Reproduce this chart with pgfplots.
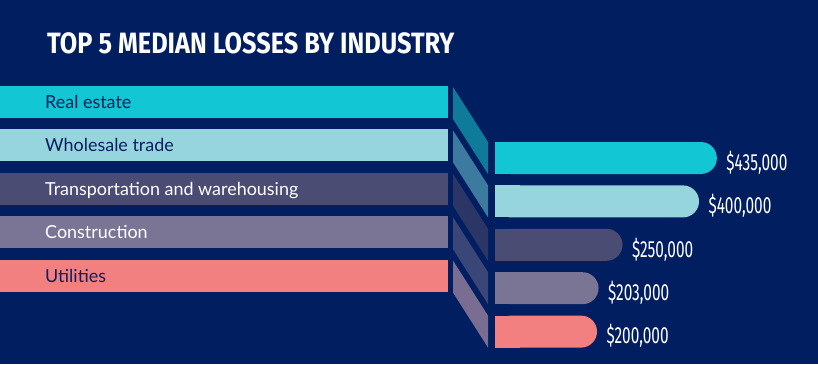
\documentclass[border=0pt]{standalone}
\usepackage{pgfplots}
\pgfplotsset{compat=1.18}
\usepackage{fontspec}
\setmainfont{Lato}
\newfontfamily\titlefont[FakeStretch=0.86]{Fira Sans}
\newfontfamily\valfont[FakeStretch=0.66]{Fira Sans}
\definecolor{bg}{HTML}{011E60}
\definecolor{cA}{HTML}{12C7D3}
\definecolor{cB}{HTML}{96D4DE}
\definecolor{cC}{HTML}{4B4C74}
\definecolor{cD}{HTML}{7A7595}
\definecolor{cE}{HTML}{F28080}
\definecolor{kA}{HTML}{0F7B9B}
\definecolor{kB}{HTML}{3C7A9F}
\definecolor{kC}{HTML}{2B3566}
\definecolor{kD}{HTML}{3A4678}
\definecolor{kE}{HTML}{796E92}
\definecolor{navytext}{HTML}{0B1F5E}
\begin{document}
\begin{tikzpicture}[x=1bp,y=1bp]
\useasboundingbox (0,0) rectangle (818,364);
\fill[bg] (0,0) rectangle (818,364);
% title
\node[anchor=base west, inner sep=0pt, text=white, font=\titlefont\bfseries\fontsize{29.5}{32}\selectfont] at (47,{364-53}) {TOP 5 MEDIAN LOSSES BY INDUSTRY};
% left bands and connectors
\foreach \i/\c/\k/\t/\lab in {0/cA/kA/navytext/Real estate,1/cB/kB/navytext/Wholesale trade,2/cC/kC/white/Transportation and warehousing,3/cD/kD/white/Construction,4/cE/kE/navytext/Utilities}{
  \pgfmathsetmacro{\top}{86+43.4*\i}
  \pgfmathsetmacro{\btop}{142+43.4*\i}
  \fill[\c] (0,{364-\top}) rectangle (448,{364-\top-32});
  \fill[\k] (453,{364-\top-1}) -- (488,{364-\btop}) -- (488,{364-\btop-32}) -- (453,{364-\top-33}) -- cycle;
  \node[anchor=base west, inner sep=0pt, text=\t, font=\fontsize{18}{20}\selectfont] at (45,{364-\top-22.5}) {\lab};
}
\begin{axis}[at={(0,0)}, anchor=south west, width=818bp, height=364bp, scale only axis,
  hide axis, clip=false, xmin=-970.588, xmax=633.333, ymin=0, ymax=364, y dir=reverse,
  xbar, bar width=32bp,
  point meta=explicit symbolic,
  nodes near coords,
  every node near coord/.append style={anchor=west, xshift=6bp, yshift=-4.5bp, text=white, font=\valfont\fontsize{23.5}{25}\selectfont}]
\addplot[bar shift=0pt, draw=none, fill=cA, rounded corners=16bp] coordinates {(435,158) [\$435,000]};
\addplot[bar shift=0pt, draw=none, fill=cB, rounded corners=16bp] coordinates {(400,201.4) [\$400,000]};
\addplot[bar shift=0pt, draw=none, fill=cC, rounded corners=16bp] coordinates {(250,244.8) [\$250,000]};
\addplot[bar shift=0pt, draw=none, fill=cD, rounded corners=16bp] coordinates {(203,288.2) [\$203,000]};
\addplot[bar shift=0pt, draw=none, fill=cE, rounded corners=16bp] coordinates {(200,331.6) [\$200,000]};
\end{axis}
% square left ends of the bars
\foreach \i/\c in {0/cA,1/cB,2/cC,3/cD,4/cE}{
  \pgfmathsetmacro{\btop}{142+43.4*\i}
  \fill[\c] (495,{364-\btop}) rectangle (520,{364-\btop-32});
}
\end{tikzpicture}
\end{document}
